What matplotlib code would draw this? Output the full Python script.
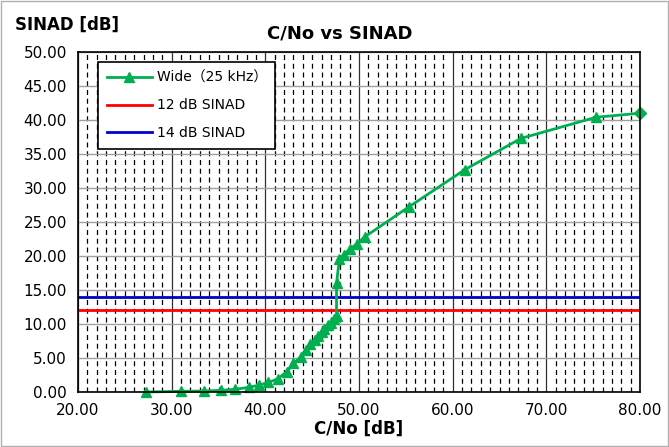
import matplotlib
matplotlib.use("Agg")
import matplotlib.pyplot as plt
from matplotlib.ticker import MultipleLocator, FormatStrFormatter
from matplotlib.lines import Line2D

plt.rcParams['font.family'] = ['DejaVu Sans', 'Noto Sans CJK JP']

cno = [27.3, 31.0, 33.5, 35.3, 36.8, 38.3, 39.3, 40.3, 41.3, 42.3, 43.0, 43.8,
       44.3, 44.8, 45.3, 45.6, 46.0, 46.3, 46.7, 47.0, 47.3, 47.6, 47.6, 47.9,
       48.4, 49.0, 49.8, 50.6, 55.3, 61.3, 67.3, 75.3]
sinad = [0.0, 0.1, 0.15, 0.25, 0.4, 0.7, 1.0, 1.4, 1.9, 3.0, 4.2, 5.2,
         6.2, 7.0, 7.7, 8.3, 8.8, 9.3, 9.8, 10.2, 10.7, 11.2, 16.0, 19.5,
         20.2, 21.0, 21.8, 22.8, 27.2, 32.7, 37.3, 40.4]
last_cno = [75.3, 80.0]
last_sinad = [40.4, 41.0]
ref12 = 12.0
ref14 = 14.0
labels = ['Wide\uff0825 kHz\uff09', '12 dB SINAD', '14 dB SINAD']

green = '#00b050'
fig = plt.figure(figsize=(6.69, 4.47), dpi=100)
fig.patches.append(plt.Rectangle((0.002, 0.002), 0.996, 0.996, transform=fig.transFigure,
                                 fill=False, edgecolor='#b0b0b0', lw=1))
ax = fig.add_axes([78/669, 1-392/447, 562/669, 340/447])
ax.set_xlim(20, 80)
ax.set_ylim(0, 50)

ax.xaxis.set_major_locator(MultipleLocator(10))
ax.xaxis.set_minor_locator(MultipleLocator(1))
ax.yaxis.set_major_locator(MultipleLocator(5))
ax.xaxis.set_major_formatter(FormatStrFormatter('%.2f'))
ax.yaxis.set_major_formatter(FormatStrFormatter('%.2f'))
ax.grid(which='major', axis='x', color='#303030', lw=0.9)
ax.grid(which='minor', axis='x', color='black', lw=0.9, ls=(0, (4, 3)))
ax.grid(which='major', axis='y', color='#a0a0a0', lw=1.0)
ax.set_axisbelow(True)
ax.tick_params(which='major', length=0, labelsize=11, pad=8)
ax.tick_params(which='minor', length=0)
for s in ax.spines.values():
    s.set_linewidth(1.2)

ax.axhline(ref12, color='#ff0000', lw=2)
ax.axhline(ref14, color='#0000cc', lw=2)
ax.plot(last_cno, last_sinad, color=green, lw=2, marker='D', markevery=[1], ms=6.5, clip_on=False)
ax.plot(cno, sinad, color=green, lw=2, marker='^', ms=7, clip_on=False)

handles = [Line2D([], [], color=green, lw=2, marker='^', ms=7),
           Line2D([], [], color='#ff0000', lw=2),
           Line2D([], [], color='#0000cc', lw=2)]
leg = ax.legend(handles, labels,
                loc='upper left', bbox_to_anchor=(0.036, 0.97), fontsize=10,
                frameon=True, fancybox=False, framealpha=1, edgecolor='black',
                handlelength=3.3, labelspacing=1.0, borderpad=0.6, handletextpad=0.3,
                borderaxespad=0)
leg.get_frame().set_linewidth(1.2)

fig.text(340/669, 1-33/447, 'C/No vs SINAD', ha='center', va='center', fontsize=13, fontweight='bold')
fig.text(15/669, 1-25/447, 'SINAD [dB]', ha='left', va='center', fontsize=12, fontweight='bold')
ax.set_xlabel('C/No [dB]', fontsize=12, fontweight='bold', labelpad=1)

fig.savefig('out.png', dpi=100)
